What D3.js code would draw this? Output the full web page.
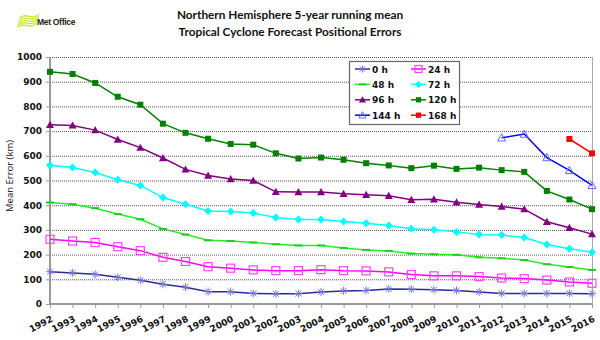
<!DOCTYPE html>
<html><head><meta charset="utf-8">
<script src="https://cdn.jsdelivr.net/npm/d3@7"></script>
<style>body{margin:0;background:#fff}svg{display:block}</style>
</head><body>
<svg id="c" width="600" height="340"></svg>
<script>
const years = d3.range(1992, 2017);
const yTicks = [0,100,200,300,400,500,600,700,800,900,1000];
const h0   = [131,126,120,108,96,80,68,50,50,43,41,42,49,53,55,61,60,58,55,49,43,43,43,43,42];
const h24  = [262,255,249,232,216,189,172,151,145,138,135,135,139,135,134,130,119,114,114,111,105,103,97,89,84];
const h48  = [411,404,388,364,343,304,281,258,255,249,242,237,237,227,219,215,204,201,199,189,185,178,161,150,138];
const h72  = [562,553,532,503,480,431,404,377,374,368,350,342,342,334,327,318,305,301,292,281,279,269,241,224,210];
const h96  = [726,723,704,666,633,591,545,520,506,500,454,453,453,446,442,438,422,424,412,403,395,384,333,309,283];
const h120 = [940,931,895,839,807,730,693,669,648,645,610,589,593,584,570,561,550,560,547,552,542,535,458,423,384];
const h144 = [null,null,null,null,null,null,null,null,null,null,null,null,null,null,null,null,null,null,null,null,673,688,593,541,480];
const h168 = [null,null,null,null,null,null,null,null,null,null,null,null,null,null,null,null,null,null,null,null,null,null,null,668,610];
const seriesNames = ["0 h","24 h","48 h","72 h","96 h","120 h","144 h","168 h"];

const series = [
  {name:seriesNames[0], v:h0,   color:"#2b2b99", mcolor:"#7777dd", marker:"star"},
  {name:seriesNames[1], v:h24,  color:"#ff00ff", mcolor:"#ff44ff", marker:"osquare"},
  {name:seriesNames[2], v:h48,  color:"#22ee22", mcolor:"#22cc22", marker:"dash"},
  {name:seriesNames[3], v:h72,  color:"#00ffff", mcolor:"#00ffff", marker:"diamond"},
  {name:seriesNames[4], v:h96,  color:"#800080", mcolor:"#800080", marker:"triangle"},
  {name:seriesNames[5], v:h120, color:"#008000", mcolor:"#008000", marker:"square"},
  {name:seriesNames[6], v:h144, color:"#0000ff", mcolor:"#6666ff", marker:"otriangle"},
  {name:seriesNames[7], v:h168, color:"#ff0000", mcolor:"#ff0000", marker:"square"}
];

const svg = d3.select("#c");
const L = 50, R = 592, T = 57, B = 304;
const x = d3.scalePoint().domain(years).range([L, R]);
const y = d3.scaleLinear().domain([0, 1000]).range([B, T]);

// title
const title = svg.append("g").attr("font-family","Lato, 'Open Sans', sans-serif").attr("font-weight","bold").attr("font-size","11.8px").attr("fill","#111").attr("text-anchor","middle");
title.append("text").attr("x",290).attr("y",19).text("Northern Hemisphere 5-year running mean");
title.append("text").attr("x",290).attr("y",36).text("Tropical Cyclone Forecast Positional Errors");

// logo
const logo = svg.append("g");
for (let i=0;i<5;i++){
  logo.append("path").attr("d",`M${17+i*0.6},${27-i*2.3} q5,-3 10,-1.5 t10,-2`).attr("fill","none").attr("stroke","#c5ea3a").attr("stroke-width",1.4);
}
logo.append("text").attr("x",37).attr("y",25).attr("font-family","Liberation Sans, Arial, sans-serif").attr("font-weight","bold").attr("font-size","8.5px").attr("fill","#222").attr("letter-spacing","-0.3").text("Met Office");

// gridlines
svg.append("g").selectAll("line").data(yTicks.filter(d=>d>0)).join("line")
  .attr("x1",L).attr("x2",R).attr("y1",d=>y(d)+0.5).attr("y2",d=>y(d)+0.5)
  .attr("stroke","#555").attr("stroke-width",1).attr("stroke-dasharray","1,1");
// right frame
svg.append("line").attr("x1",R+0.5).attr("x2",R+0.5).attr("y1",T).attr("y2",B).attr("stroke","#aaa");

// axes
const yAxis = svg.append("g").attr("transform",`translate(${L},0)`)
  .call(d3.axisLeft(y).tickValues(yTicks).tickSize(4).tickPadding(4).tickFormat(d3.format("d")));
const xAxis = svg.append("g").attr("transform",`translate(0,${B})`)
  .call(d3.axisBottom(x).tickValues(years).tickSize(4).tickFormat(d3.format("d")));
[yAxis,xAxis].forEach(a=>{
  a.select(".domain").attr("stroke","#999").attr("stroke-width",2);
  a.selectAll(".tick line").attr("stroke","#999");
  a.selectAll("text").attr("font-family","DejaVu Sans, sans-serif").attr("font-weight","bold").attr("font-size","9px").attr("fill","#111");
});
yAxis.select(".domain").attr("d",`M0,${T}V${B}`);
xAxis.select(".domain").attr("d",`M${L},0H${R}`);
xAxis.selectAll("text").attr("text-anchor","end").attr("dy",null).attr("y",0).attr("x",0)
  .attr("transform","translate(3,17) rotate(-27)");

// y label
svg.append("text").attr("transform","translate(13,176) rotate(-90)").attr("text-anchor","middle")
  .attr("font-family","'Open Sans', sans-serif").attr("font-size","9.5px").attr("fill","#111").text("Mean Error (km)");

function drawMarker(g, type, color, s){
  switch(type){
    case "star":
      g.append("path").attr("d",`M${-s},0H${s}M0,${-s}V${s}M${-s*0.75},${-s*0.75}L${s*0.75},${s*0.75}M${-s*0.75},${s*0.75}L${s*0.75},${-s*0.75}`).attr("stroke",color).attr("stroke-width",1).attr("fill","none"); break;
    case "osquare":
      g.append("rect").attr("x",-s).attr("y",-s).attr("width",2*s).attr("height",2*s).attr("fill","none").attr("stroke",color).attr("stroke-width",1.2); break;
    case "dash":
      g.append("path").attr("d",`M${-s},0H${s}`).attr("stroke",color).attr("stroke-width",2); break;
    case "diamond":
      g.append("path").attr("d",`M0,${-s}L${s},0L0,${s}L${-s},0Z`).attr("fill",color); break;
    case "triangle":
      g.append("path").attr("d",`M0,${-s}L${s},${s*0.8}L${-s},${s*0.8}Z`).attr("fill",color); break;
    case "otriangle":
      g.append("path").attr("d",`M0,${-s}L${s},${s*0.8}L${-s},${s*0.8}Z`).attr("fill","none").attr("stroke",color).attr("stroke-width",1); break;
    case "square":
      g.append("rect").attr("x",-s*0.75).attr("y",-s*0.75).attr("width",1.5*s).attr("height",1.5*s).attr("fill",color); break;
  }
}

const line = d3.line().defined(d=>d.v!=null).x(d=>x(d.yr)).y(d=>y(d.v));
series.forEach(s=>{
  const pts = years.map((yr,i)=>({yr, v:s.v[i]}));
  svg.append("path").datum(pts).attr("d",line).attr("fill","none").attr("stroke",s.color).attr("stroke-width",1.5);
  pts.filter(p=>p.v!=null).forEach(p=>{
    const g = svg.append("g").attr("transform",`translate(${x(p.yr)},${y(p.v)})`);
    drawMarker(g, s.marker, s.mcolor, 4);
  });
});

// legend
const lg = svg.append("g");
lg.append("rect").attr("x",349.5).attr("y",61.5).attr("width",110).attr("height",63).attr("fill","#fff").attr("stroke","#666").attr("stroke-width",1.2);
series.forEach((s,i)=>{
  const col = i%2, row = Math.floor(i/2);
  const lx = 355 + col*56, ly = 69 + row*15.4;
  lg.append("line").attr("x1",lx).attr("x2",lx+15).attr("y1",ly).attr("y2",ly).attr("stroke",s.color).attr("stroke-width",1.5);
  drawMarker(lg.append("g").attr("transform",`translate(${lx+7.5},${ly})`), s.marker, s.mcolor, 3.5);
  lg.append("text").attr("x",lx+17).attr("y",ly+3.5).attr("font-family","DejaVu Sans, sans-serif").attr("font-weight","bold").attr("font-size","9px").attr("fill","#111").text(s.name);
});
</script>
</body></html>
